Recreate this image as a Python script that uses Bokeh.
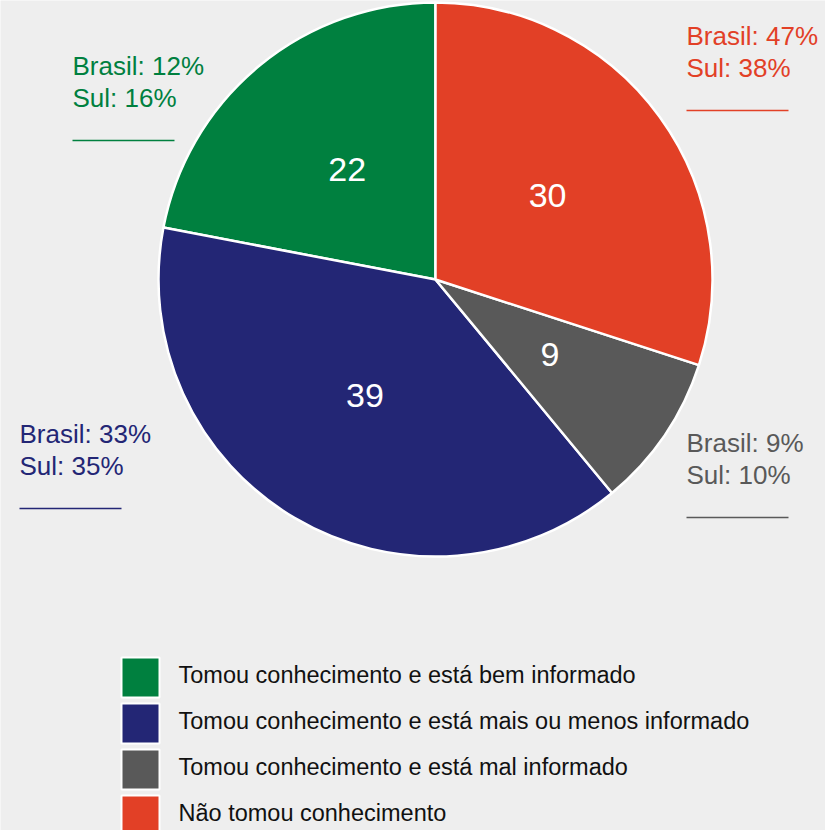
import math
from bokeh.plotting import figure
from bokeh.models import ColumnDataSource, Range1d
from bokeh.core.properties import value
from bokeh.embed import file_html
from bokeh.resources import INLINE

# ---- data ----
categories = [
    "Tomou conhecimento e está bem informado",
    "Tomou conhecimento e está mais ou menos informado",
    "Tomou conhecimento e está mal informado",
    "Não tomou conhecimento",
]
values = [22, 39, 9, 30]
brasil = [12, 33, 9, 47]
sul = [16, 35, 10, 38]
colors = ["#00803f", "#232675", "#595959", "#e24026"]

# ---- layout (pixel-like units, y measured from top) ----
W, H = 825, 830
CX, CY, R = 435, 279, 277
FONT = "Liberation Sans"
SHIFT = 9  # baseline correction for SVG text

def Y(py):
    return H - py

p = figure(width=W, height=H, output_backend="svg", toolbar_location=None,
           x_range=Range1d(0, W), y_range=Range1d(0, H),
           min_border=0, min_border_left=0, min_border_right=0,
           min_border_top=0, min_border_bottom=0)
p.axis.visible = False
p.grid.visible = False
p.outline_line_color = None
p.background_fill_color = "#eeeeee"
p.border_fill_color = "#eeeeee"

total = sum(values)
starts, ends, lx, ly = [], [], [], []
acc = 0.0
for v in values:
    a0 = math.pi / 2 + 2 * math.pi * acc / total
    acc += v
    a1 = math.pi / 2 + 2 * math.pi * acc / total
    starts.append(a0)
    ends.append(a1)
    mid = (a0 + a1) / 2
    lx.append(CX + 0.5 * R * math.cos(mid))
    ly.append(Y(CY) + 0.5 * R * math.sin(mid) + 3)

src = ColumnDataSource(dict(start=starts, end=ends, color=colors,
                            lx=lx, ly=ly, lab=[str(v) for v in values]))
p.wedge(x=CX, y=Y(CY), radius=R, start_angle="start", end_angle="end",
        fill_color="color", line_color="white", line_width=2.5, source=src)
p.text(x="lx", y="ly", text="lab", source=src, text_color="white",
       text_font=value(FONT), text_font_size="34px",
       text_align="center", text_baseline="middle")

# side annotations: (text x, first baseline y, line y)
anno_pos = [(72, 74, 140), (19, 442, 508), (686, 451, 517), (686, 44, 110)]
for (tx, by, liney), b, s, c in zip(anno_pos, brasil, sul, colors):
    p.text(x=[tx, tx], y=[Y(by - SHIFT), Y(by + 32 - SHIFT)],
           text=[f"Brasil: {b}%", f"Sul: {s}%"], text_color=c,
           text_font=value(FONT), text_font_size="26px",
           text_align="left", text_baseline="alphabetic")
    p.segment(x0=[tx], y0=[Y(liney)], x1=[tx + 102], y1=[Y(liney)],
              line_color=c, line_width=1.5)

# legend
leg_y = [677 + 46 * i for i in range(len(categories))]
p.rect(x=[140] * len(categories), y=[Y(v) for v in leg_y], width=38, height=40,
       fill_color=colors, line_color="white", line_width=2)
p.text(x=[178] * len(categories), y=[Y(v + 6 - SHIFT) for v in leg_y], text=categories,
       text_color="#111111", text_font=value(FONT), text_font_size="23.5px",
       text_align="left", text_baseline="alphabetic")

open("out.html", "w").write(file_html(p, INLINE))
